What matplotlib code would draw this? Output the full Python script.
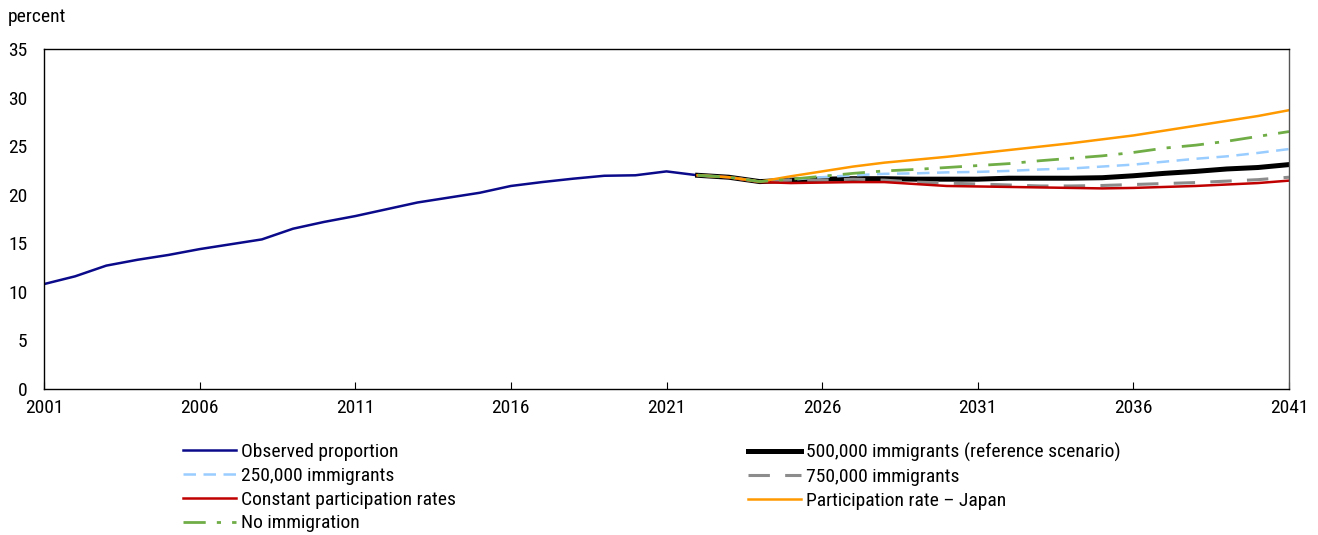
import numpy as np
import matplotlib.pyplot as plt

plt.rcParams['font.family'] = ['Roboto Condensed', 'Liberation Sans', 'DejaVu Sans']

obs_years = list(range(2001, 2023))
observed = [10.8, 11.6, 12.7, 13.3, 13.8, 14.4, 14.9, 15.4, 16.5, 17.2, 17.8,
            18.5, 19.2, 19.7, 20.2, 20.9, 21.3, 21.65, 21.95, 22.0, 22.4, 22.0]

proj_years = list(range(2022, 2042))
imm_500k = [22.0, 21.8, 21.35, 21.5, 21.6, 21.65, 21.65, 21.6, 21.6, 21.6,
            21.7, 21.7, 21.7, 21.75, 21.95, 22.2, 22.4, 22.65, 22.8, 23.1]
imm_250k = [22.0, 21.8, 21.35, 21.55, 21.8, 22.0, 22.15, 22.2, 22.3, 22.35,
            22.45, 22.6, 22.7, 22.9, 23.1, 23.4, 23.7, 23.95, 24.3, 24.7]
imm_750k = [22.0, 21.8, 21.35, 21.5, 21.5, 21.6, 21.5, 21.3, 21.2, 21.1,
            21.0, 20.9, 20.9, 20.95, 21.05, 21.15, 21.25, 21.4, 21.55, 21.8]
const_part = [22.0, 21.8, 21.3, 21.2, 21.25, 21.3, 21.3, 21.1, 20.9, 20.85,
              20.8, 20.75, 20.7, 20.65, 20.7, 20.8, 20.9, 21.05, 21.2, 21.45]
japan_rate = [22.0, 21.8, 21.35, 21.9, 22.4, 22.9, 23.3, 23.6, 23.9, 24.25,
              24.6, 24.95, 25.3, 25.7, 26.1, 26.6, 27.1, 27.6, 28.1, 28.7]
no_imm = [22.0, 21.8, 21.35, 21.6, 21.9, 22.2, 22.45, 22.6, 22.8, 23.0,
          23.2, 23.5, 23.75, 24.0, 24.35, 24.8, 25.1, 25.5, 26.0, 26.5]

W, H = 1318, 535
fig = plt.figure(figsize=(W / 100, H / 100), dpi=100)
ax = fig.add_axes([44 / W, 1 - 389 / H, (1289 - 44) / W, (389 - 49) / H])

navy = '#0a0a8a'
lblue = '#99ccff'
gray = '#8c8c8c'
red = '#c00000'
orange = '#ff9900'
green = '#70ad47'

l_obs, = ax.plot(obs_years, observed, color=navy, lw=1.8)
l_500, = ax.plot(proj_years, imm_500k, color='black', lw=3.6)
l_250, = ax.plot(proj_years, imm_250k, color=lblue, lw=1.8, dashes=(5, 3))
l_750, = ax.plot(proj_years, imm_750k, color=gray, lw=2.2, dashes=(7, 5))
l_red, = ax.plot(proj_years, const_part, color=red, lw=1.8)
l_jp, = ax.plot(proj_years, japan_rate, color=orange, lw=1.8)
l_no, = ax.plot(proj_years, no_imm, color=green, lw=2.0, dashes=(8, 4, 1.5, 4))

fs = 14
ax.set_xlim(2001, 2041)
ax.set_ylim(0, 35)
ax.set_xticks(range(2001, 2042, 5))
ax.set_yticks(range(0, 36, 5))
ax.tick_params(axis='x', direction='in', length=5, labelsize=fs, pad=7)
ax.tick_params(axis='y', length=0, labelsize=fs, pad=12)
for s in ax.spines.values():
    s.set_linewidth(1.0)
ax.spines['right'].set_color('#555555')

fig.text(8 / W, 1 - 17 / H, 'percent', fontsize=fs, va='center', ha='left')

kw = dict(loc='upper left', frameon=False, fontsize=fs, handlelength=2.75,
          handletextpad=0.22, labelspacing=0.3, borderaxespad=0, borderpad=0)
fig.legend([l_obs, l_250, l_red, l_no],
           ['Observed proportion', '250,000 immigrants',
            'Constant participation rates', 'No immigration'],
           bbox_to_anchor=(183 / W, 1 - 443 / H), **kw)
fig.legend([l_500, l_750, l_jp],
           ['500,000 immigrants (reference scenario)', '750,000 immigrants',
            'Participation rate \u2013 Japan'],
           bbox_to_anchor=(748 / W, 1 - 443 / H), **kw)

fig.savefig('out.png', dpi=100)
